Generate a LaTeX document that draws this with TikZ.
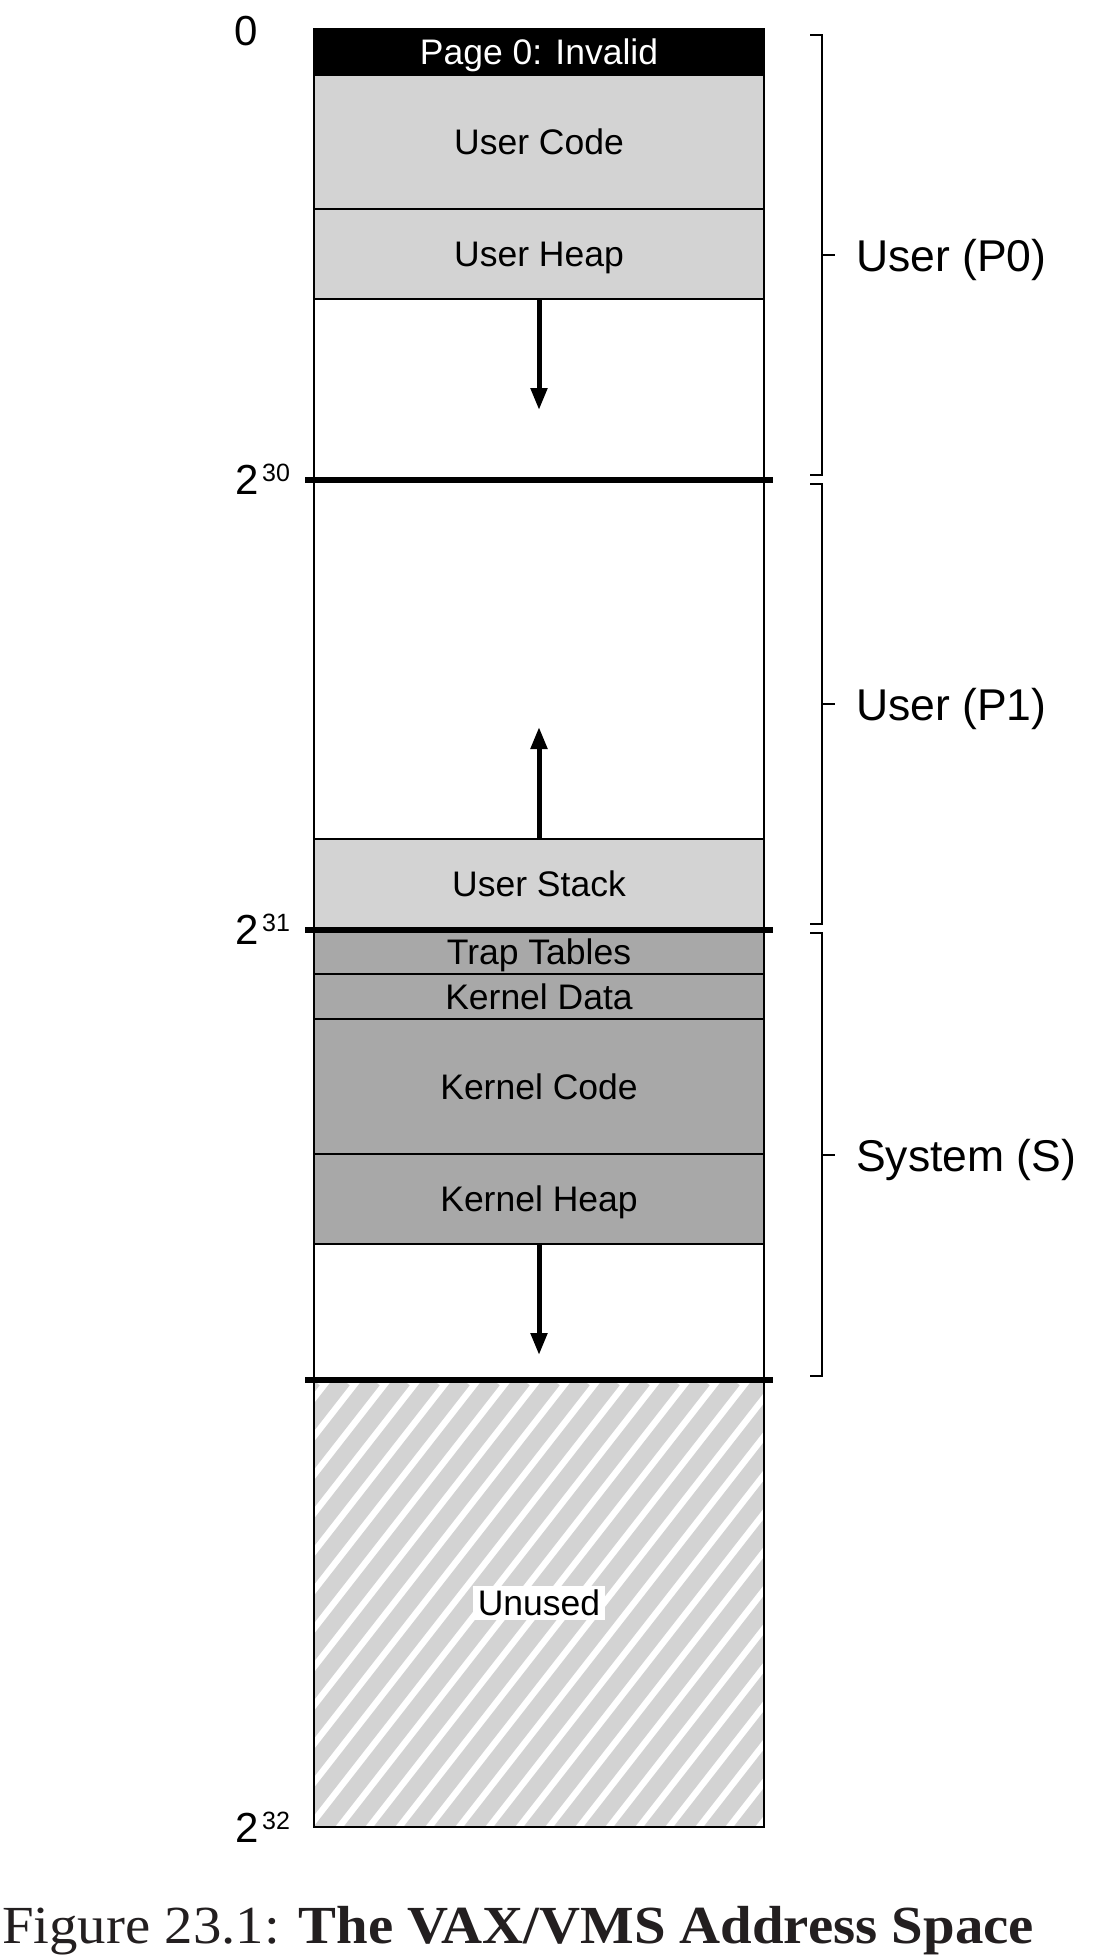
\documentclass[tikz,border=0pt]{standalone}
\usepackage{fontspec}
\usepackage{graphicx}
\setmainfont{Liberation Sans}
\newfontfamily\capfont{Liberation Serif}
\usetikzlibrary{arrows.meta,calc}
\definecolor{lightfill}{RGB}{211,211,211}
\definecolor{darkfill}{RGB}{168,168,168}
\definecolor{captext}{RGB}{35,31,32}
\begin{document}
\begin{tikzpicture}[x=1pt,y=1pt,
  region/.style={draw=black, line width=2pt, rectangle, minimum width=450pt,
    inner sep=0pt, text height=25.4pt, text depth=0pt,
    font=\fontsize{35.5}{40}\selectfont},
  sepline/.style={line width=6pt},
  growarrow/.style={line width=5pt, -{Triangle[length=22pt,width=16pt]}},
  bracketline/.style={line width=2pt},
  addr/.style={font=\fontsize{42}{48}\selectfont, inner sep=0pt, anchor=base east},
  expo/.style={font=\fontsize{25}{28}\selectfont, inner sep=0pt, anchor=base west},
  side/.style={font=\fontsize{44.5}{50}\selectfont, inner sep=0pt, anchor=base west},
  stripe/.style={line width=17pt, draw=lightfill}
]
\useasboundingbox (0,0) rectangle (1102,-1959);

% hatched unused area
\begin{scope}
  \clip (314,-1379) rectangle (764,-1827);
  \foreach \i in {-14,...,16}
    \draw[stripe] ({314+\i*30},-1840) -- ++(359,460);
\end{scope}

% regions
\node[region, fill=black, text=white, minimum height=46pt] (page0) at (539,-52) {Page 0: Invalid};
\node[region, fill=lightfill, minimum height=134pt] (ucode) at (539,-142) {User Code};
\node[region, fill=lightfill, minimum height=90pt] (uheap) at (539,-254) {User Heap};
\node[region, minimum height=180pt] (pfree) at (539,-389) {};
\node[region, minimum height=360pt] (qfree) at (539,-659) {};
\node[region, fill=lightfill, minimum height=90pt] (ustack) at (539,-884) {User Stack};
\node[region, fill=darkfill, minimum height=45pt] (trap) at (539,-951.5) {Trap Tables};
\node[region, fill=darkfill, minimum height=45pt] (kdata) at (539,-996.5) {Kernel Data};
\node[region, fill=darkfill, minimum height=135pt] (kcode) at (539,-1086.5) {Kernel Code};
\node[region, fill=darkfill, minimum height=90pt] (kheap) at (539,-1199) {Kernel Heap};
\node[region, minimum height=135pt] (sfree) at (539,-1311.5) {};
\node[region, line width=2.6pt, minimum height=448pt] (unused) at (539,-1603) {};
\node[fill=white, inner xsep=5pt, inner ysep=4pt, font=\fontsize{35.5}{40}\selectfont] (unusedlbl) at (unused.center) {Unused};

% boundary lines
\draw[sepline] ($(pfree.south west)+(-8,0)$) -- ($(pfree.south east)+(8,0)$);
\draw[sepline] ($(ustack.south west)+(-8,0)$) -- ($(ustack.south east)+(8,0)$);
\draw[sepline] ($(sfree.south west)+(-8,0)$) -- ($(sfree.south east)+(8,0)$);

% growth arrows
\coordinate (uheaptip) at (539,-410);
\coordinate (ustacktip) at (539,-727);
\coordinate (kheaptip) at (539,-1355);
\draw[growarrow] (uheap.south) -- (uheaptip);
\draw[growarrow] (ustack.north) -- (ustacktip);
\draw[growarrow] (kheap.south) -- (kheaptip);

% brackets
\draw[bracketline] (810,-35) -- (822,-35) -- (822,-475) -- (810,-475);
\draw[bracketline] (822,-255) -- (835,-255);
\draw[bracketline] (810,-484) -- (822,-484) -- (822,-924) -- (810,-924);
\draw[bracketline] (822,-704) -- (835,-704);
\draw[bracketline] (810,-933) -- (822,-933) -- (822,-1376) -- (810,-1376);
\draw[bracketline] (822,-1154.5) -- (835,-1154.5);

% side labels
\node[side] (p0lbl) at (856,-271) {User (P0)};
\node[side] (p1lbl) at (856,-720.5) {User (P1)};
\node[side] (slbl) at (856,-1171) {System (S)};

% address labels
\node[addr] (a0) at (258,-46) {0};
\node[addr] (a30) at (259,-494) {2};
\node[expo] (a30e) at (262,-481) {30};
\node[addr] (a31) at (259,-944) {2};
\node[expo] (a31e) at (262,-931) {31};
\node[addr] (a32) at (259,-1842) {2};
\node[expo] (a32e) at (262,-1829) {32};

% caption
\node[anchor=base west, inner sep=0pt, text=captext,
  font=\capfont\fontsize{53.6}{60}\selectfont] (caption) at (2,-1943)
  {\scalebox{1.06}[1]{Figure 23.1: \textbf{The VAX/VMS Address Space}}};
\end{tikzpicture}
\end{document}
